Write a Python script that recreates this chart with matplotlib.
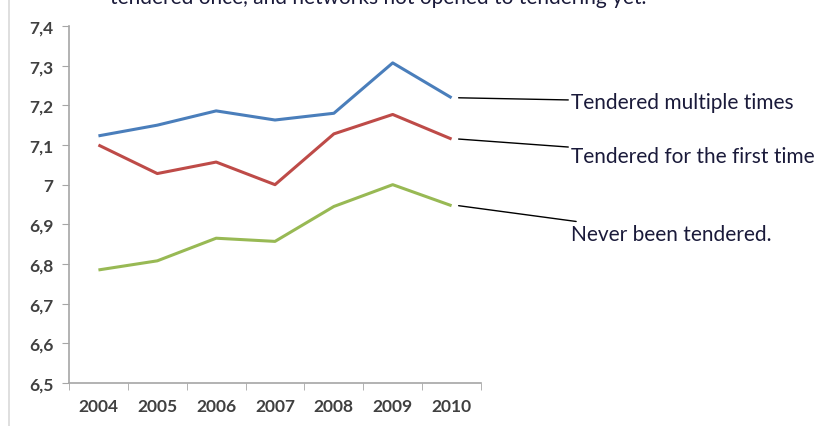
import matplotlib.pyplot as plt
from matplotlib.lines import Line2D

years = ['2004', '2005', '2006', '2007', '2008', '2009', '2010']
multiple = [7.123, 7.150, 7.186, 7.163, 7.180, 7.307, 7.219]
first_time = [7.100, 7.028, 7.057, 7.000, 7.128, 7.177, 7.115]
never = [6.785, 6.808, 6.865, 6.857, 6.945, 7.000, 6.947]

series_names = ['Tendered multiple times', 'Tendered for the first time',
                'Never been tendered.']
label_y = [7.208, 7.072, 6.875]
colors = ['#4a7ebb', '#be4b48', '#98b954']

yticks = [6.5, 6.6, 6.7, 6.8, 6.9, 7.0, 7.1, 7.2, 7.3, 7.4]
ytick_labels = ['6,5', '6,6', '6,7', '6,8', '6,9', '7', '7,1', '7,2', '7,3', '7,4']

plt.rcParams['font.family'] = ['Lato', 'DejaVu Sans']

fig = plt.figure(figsize=(8.19, 4.27), dpi=100)
ax = fig.add_axes([69 / 819, 1 - 384 / 427, 412 / 819, 357 / 427])

x = list(range(len(years)))
for vals, c in zip([multiple, first_time, never], colors):
    ax.plot(x, vals, color=c, linewidth=2.2, solid_capstyle='butt')

ax.set_xlim(-0.5, len(years) - 0.5)
ax.set_ylim(6.5, 7.4)
ax.set_yticks(yticks)
ax.set_yticklabels(ytick_labels)
ax.set_xticks(x)
ax.set_xticklabels(years)
ax.set_xticks([i - 0.5 for i in range(len(years) + 1)], minor=True)

for s in ['top', 'right']:
    ax.spines[s].set_visible(False)
for s in ['left', 'bottom']:
    ax.spines[s].set_color('#a6a6a6')
    ax.spines[s].set_linewidth(1.2)

ax.tick_params(axis='y', direction='out', length=5, color='#a6a6a6',
               labelsize=12.5, labelcolor='#404040', pad=6)
ax.tick_params(axis='x', which='major', length=0, labelsize=12.5,
               labelcolor='#404040', pad=11)
ax.tick_params(axis='x', which='minor', direction='out', length=5,
               color='#a6a6a6')
for lab in ax.get_xticklabels() + ax.get_yticklabels():
    lab.set_fontweight('bold')

# callout lines from line ends to labels
ends = [multiple[-1], first_time[-1], never[-1]]
for name, yv, ly in zip(series_names, ends, label_y):
    ax.annotate(name, xy=(6.12, yv), xytext=(8.03, ly), textcoords='data',
                fontsize=15, color='#1a1a3a', va='center', ha='left',
                annotation_clip=False,
                arrowprops=dict(arrowstyle='-', color='black', lw=1,
                                shrinkA=0, shrinkB=0))

fig.text(110 / 819, 1 - 4 / 427,
         'tendered once, and networks not opened to tendering yet.',
         fontsize=15, color='#1a1a3a', va='baseline', ha='left')

fig.add_artist(Line2D([9 / 819, 9 / 819], [0, 1], color='#d9d9d9', lw=1.2,
                      transform=fig.transFigure))

fig.savefig('out.png', dpi=100)
